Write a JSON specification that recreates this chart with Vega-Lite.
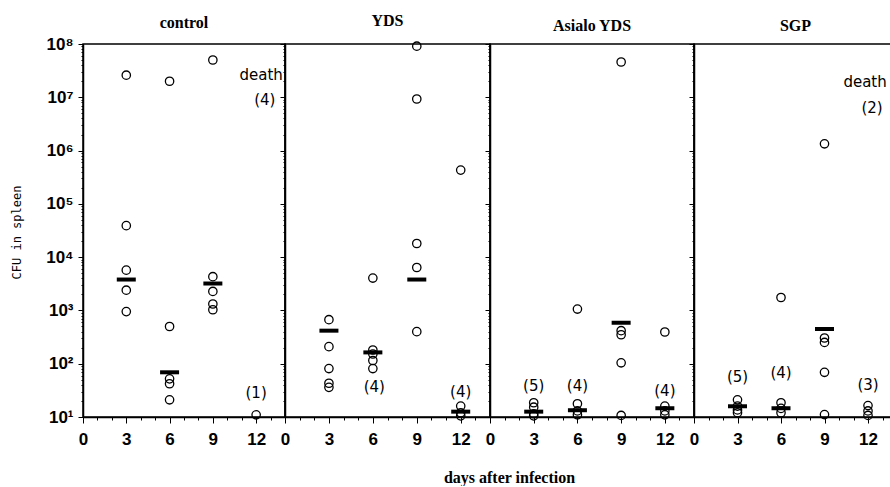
{
  "$schema": "https://vega.github.io/schema/vega-lite/v6.json",
  "padding": {"left": 9, "top": 12, "right": 0, "bottom": 0},
  "autosize": {"type": "pad"},
  "background": "white",
  "spacing": 0,
  "bounds": "flush",
  "datasets": {
    "pts": [
      {"g": "control", "day": 3, "cfu": 26000000}, {"g": "control", "day": 3, "cfu": 39000}, {"g": "control", "day": 3, "cfu": 5700}, {"g": "control", "day": 3, "cfu": 2400}, {"g": "control", "day": 3, "cfu": 950},
      {"g": "control", "day": 6, "cfu": 20000000}, {"g": "control", "day": 6, "cfu": 500}, {"g": "control", "day": 6, "cfu": 52}, {"g": "control", "day": 6, "cfu": 42}, {"g": "control", "day": 6, "cfu": 21},
      {"g": "control", "day": 9, "cfu": 50000000}, {"g": "control", "day": 9, "cfu": 4300}, {"g": "control", "day": 9, "cfu": 2270}, {"g": "control", "day": 9, "cfu": 1320}, {"g": "control", "day": 9, "cfu": 1030},
      {"g": "control", "day": 12, "cfu": 11},
      {"g": "YDS", "day": 3, "cfu": 670}, {"g": "YDS", "day": 3, "cfu": 209}, {"g": "YDS", "day": 3, "cfu": 81}, {"g": "YDS", "day": 3, "cfu": 43}, {"g": "YDS", "day": 3, "cfu": 36},
      {"g": "YDS", "day": 6, "cfu": 4050}, {"g": "YDS", "day": 6, "cfu": 181}, {"g": "YDS", "day": 6, "cfu": 152}, {"g": "YDS", "day": 6, "cfu": 115}, {"g": "YDS", "day": 6, "cfu": 81},
      {"g": "YDS", "day": 9, "cfu": 91000000}, {"g": "YDS", "day": 9, "cfu": 9300000}, {"g": "YDS", "day": 9, "cfu": 18000}, {"g": "YDS", "day": 9, "cfu": 6400}, {"g": "YDS", "day": 9, "cfu": 400},
      {"g": "YDS", "day": 12, "cfu": 430000}, {"g": "YDS", "day": 12, "cfu": 16}, {"g": "YDS", "day": 12, "cfu": 12}, {"g": "YDS", "day": 12, "cfu": 10.5},
      {"g": "Asialo YDS", "day": 3, "cfu": 18.5}, {"g": "Asialo YDS", "day": 3, "cfu": 15.3}, {"g": "Asialo YDS", "day": 3, "cfu": 11.5}, {"g": "Asialo YDS", "day": 3, "cfu": 10.5},
      {"g": "Asialo YDS", "day": 6, "cfu": 1060}, {"g": "Asialo YDS", "day": 6, "cfu": 17.7}, {"g": "Asialo YDS", "day": 6, "cfu": 13}, {"g": "Asialo YDS", "day": 6, "cfu": 11},
      {"g": "Asialo YDS", "day": 9, "cfu": 46000000}, {"g": "Asialo YDS", "day": 9, "cfu": 417}, {"g": "Asialo YDS", "day": 9, "cfu": 350}, {"g": "Asialo YDS", "day": 9, "cfu": 104}, {"g": "Asialo YDS", "day": 9, "cfu": 10.7},
      {"g": "Asialo YDS", "day": 12, "cfu": 394}, {"g": "Asialo YDS", "day": 12, "cfu": 16}, {"g": "Asialo YDS", "day": 12, "cfu": 13}, {"g": "Asialo YDS", "day": 12, "cfu": 11},
      {"g": "SGP", "day": 3, "cfu": 21}, {"g": "SGP", "day": 3, "cfu": 16}, {"g": "SGP", "day": 3, "cfu": 13.6}, {"g": "SGP", "day": 3, "cfu": 12},
      {"g": "SGP", "day": 6, "cfu": 1750}, {"g": "SGP", "day": 6, "cfu": 18.5}, {"g": "SGP", "day": 6, "cfu": 14.5}, {"g": "SGP", "day": 6, "cfu": 12},
      {"g": "SGP", "day": 9, "cfu": 1340000}, {"g": "SGP", "day": 9, "cfu": 304}, {"g": "SGP", "day": 9, "cfu": 251}, {"g": "SGP", "day": 9, "cfu": 69}, {"g": "SGP", "day": 9, "cfu": 11.1},
      {"g": "SGP", "day": 12, "cfu": 16.4}, {"g": "SGP", "day": 12, "cfu": 13}, {"g": "SGP", "day": 12, "cfu": 10.7}
    ],
    "means": [
      {"g": "control", "day": 3, "cfu": 3800}, {"g": "control", "day": 6, "cfu": 69}, {"g": "control", "day": 9, "cfu": 3200},
      {"g": "YDS", "day": 3, "cfu": 417}, {"g": "YDS", "day": 6, "cfu": 163}, {"g": "YDS", "day": 9, "cfu": 3800}, {"g": "YDS", "day": 12, "cfu": 12.6},
      {"g": "Asialo YDS", "day": 3, "cfu": 12.6}, {"g": "Asialo YDS", "day": 6, "cfu": 13.4}, {"g": "Asialo YDS", "day": 9, "cfu": 590}, {"g": "Asialo YDS", "day": 12, "cfu": 14.6},
      {"g": "SGP", "day": 3, "cfu": 15.9}, {"g": "SGP", "day": 6, "cfu": 14.6}, {"g": "SGP", "day": 9, "cfu": 448}
    ],
    "notes": [
      {"g": "control", "day": 12.35, "cfu": 26000000, "label": "death"}, {"g": "control", "day": 12.6, "cfu": 8800000, "label": "(4)"}, {"g": "control", "day": 12, "cfu": 27.7, "label": "(1)"},
      {"g": "YDS", "day": 6.1, "cfu": 36, "label": "(4)"}, {"g": "YDS", "day": 12, "cfu": 29, "label": "(4)"},
      {"g": "Asialo YDS", "day": 3, "cfu": 37.8, "label": "(5)"}, {"g": "Asialo YDS", "day": 6, "cfu": 37.8, "label": "(4)"}, {"g": "Asialo YDS", "day": 12, "cfu": 30.4, "label": "(4)"},
      {"g": "SGP", "day": 11.8, "cfu": 19400000, "label": "death"}, {"g": "SGP", "day": 12.28, "cfu": 6250000, "label": "(2)"}, {"g": "SGP", "day": 3, "cfu": 55.6, "label": "(5)"}, {"g": "SGP", "day": 6, "cfu": 66, "label": "(4)"}, {"g": "SGP", "day": 12, "cfu": 40, "label": "(3)"}
    ]
  },
  "hconcat": [
    {
      "width": 202, "height": 373,
      "title": {"text": "control", "dy": 6},
      "encoding": {
        "x": {"field": "day", "type": "quantitative", "scale": {"domain": [0, 14], "nice": false, "zero": false},
          "axis": {"title": null, "values": [0,1,2,3,4,5,6,7,8,9,10,11,12,13], "labelExpr": "datum.value % 3 === 0 ? datum.label : ''", "tickSize": {"condition": {"test": "datum.value % 3 === 0", "value": 6}, "value": 3}, "labelPadding": 8}},
        "y": {"field": "cfu", "type": "quantitative", "scale": {"type": "log", "domain": [10, 100000000], "nice": false},
          "axis": {"title": "CFU in spleen", "values": [10,20,30,40,50,60,70,80,90,100,200,300,400,500,600,700,800,900,1000,2000,3000,4000,5000,6000,7000,8000,9000,10000,20000,30000,40000,50000,60000,70000,80000,90000,100000,200000,300000,400000,500000,600000,700000,800000,900000,1000000,2000000,3000000,4000000,5000000,6000000,7000000,8000000,9000000,10000000,20000000,30000000,40000000,50000000,60000000,70000000,80000000,90000000,100000000],
            "labelExpr": "datum.value == 10 ? '10¹' : datum.value == 100 ? '10²' : datum.value == 1000 ? '10³' : datum.value == 10000 ? '10⁴' : datum.value == 100000 ? '10⁵' : datum.value == 1000000 ? '10⁶' : datum.value == 10000000 ? '10⁷' : datum.value == 100000000 ? '10⁸' : ''",
            "tickSize": {"condition": {"test": "indexof([10,100,1000,10000,100000,1000000,10000000,100000000], datum.value) >= 0", "value": 5}, "value": 2},
            "labelPadding": 5, "labelBaseline": "middle",
            "titleFont": "DejaVu Sans Mono", "titleFontSize": 12, "titleFontWeight": "normal", "titleX": -67, "titleY": 188, "titleAngle": -90, "titleAlign": "center", "titleBaseline": "middle"}}
      },
      "layer": [
        {"data": {"name": "pts"}, "transform": [{"filter": "datum.g === 'control'"}], "mark": {"type": "point", "filled": false, "stroke": "black", "strokeWidth": 1.3, "size": 70, "opacity": 1}},
        {"data": {"name": "means"}, "transform": [{"filter": "datum.g === 'control'"}], "mark": {"type": "tick", "orient": "horizontal", "size": 19, "thickness": 4, "color": "black", "opacity": 1}},
        {"data": {"name": "notes"}, "transform": [{"filter": "datum.g === 'control'"}], "mark": {"type": "text", "font": "DejaVu Sans", "fontSize": 15, "color": "black", "align": "center", "baseline": "middle"}, "encoding": {"text": {"field": "label"}}}
      ]
    },
    {
      "width": 205, "height": 373,
      "title": {"text": "YDS"},
      "encoding": {
        "x": {"field": "day", "type": "quantitative", "scale": {"domain": [0, 14], "nice": false, "zero": false},
          "axis": {"title": "days after infection", "values": [0,1,2,3,4,5,6,7,8,9,10,11,12,13], "labelExpr": "datum.value % 3 === 0 ? datum.label : ''", "tickSize": {"condition": {"test": "datum.value % 3 === 0", "value": 6}, "value": 3}, "labelPadding": 8,
            "titleFont": "Liberation Serif", "titleFontSize": 16, "titleFontWeight": "bold", "titleX": 224, "titleY": 60, "titleAlign": "center", "titleBaseline": "middle"}},
        "y": {"field": "cfu", "type": "quantitative", "scale": {"type": "log", "domain": [10, 100000000], "nice": false},
          "axis": {"title": null, "labels": false, "values": [10,20,30,40,50,60,70,80,90,100,200,300,400,500,600,700,800,900,1000,2000,3000,4000,5000,6000,7000,8000,9000,10000,20000,30000,40000,50000,60000,70000,80000,90000,100000,200000,300000,400000,500000,600000,700000,800000,900000,1000000,2000000,3000000,4000000,5000000,6000000,7000000,8000000,9000000,10000000,20000000,30000000,40000000,50000000,60000000,70000000,80000000,90000000,100000000],
            "tickSize": {"condition": {"test": "indexof([10,100,1000,10000,100000,1000000,10000000,100000000], datum.value) >= 0", "value": 5}, "value": 2}}}
      },
      "layer": [
        {"data": {"name": "pts"}, "transform": [{"filter": "datum.g === 'YDS'"}], "mark": {"type": "point", "filled": false, "stroke": "black", "strokeWidth": 1.3, "size": 70, "opacity": 1}},
        {"data": {"name": "means"}, "transform": [{"filter": "datum.g === 'YDS'"}], "mark": {"type": "tick", "orient": "horizontal", "size": 19, "thickness": 4, "color": "black", "opacity": 1}},
        {"data": {"name": "notes"}, "transform": [{"filter": "datum.g === 'YDS'"}], "mark": {"type": "text", "font": "DejaVu Sans", "fontSize": 15, "color": "black", "align": "center", "baseline": "middle"}, "encoding": {"text": {"field": "label"}}}
      ]
    },
    {
      "width": 204, "height": 373,
      "title": {"text": "Asialo YDS"},
      "encoding": {
        "x": {"field": "day", "type": "quantitative", "scale": {"domain": [0, 14], "nice": false, "zero": false},
          "axis": {"title": null, "values": [0,1,2,3,4,5,6,7,8,9,10,11,12,13], "labelExpr": "datum.value % 3 === 0 ? datum.label : ''", "tickSize": {"condition": {"test": "datum.value % 3 === 0", "value": 6}, "value": 3}, "labelPadding": 8}},
        "y": {"field": "cfu", "type": "quantitative", "scale": {"type": "log", "domain": [10, 100000000], "nice": false},
          "axis": {"title": null, "labels": false, "values": [10,20,30,40,50,60,70,80,90,100,200,300,400,500,600,700,800,900,1000,2000,3000,4000,5000,6000,7000,8000,9000,10000,20000,30000,40000,50000,60000,70000,80000,90000,100000,200000,300000,400000,500000,600000,700000,800000,900000,1000000,2000000,3000000,4000000,5000000,6000000,7000000,8000000,9000000,10000000,20000000,30000000,40000000,50000000,60000000,70000000,80000000,90000000,100000000],
            "tickSize": {"condition": {"test": "indexof([10,100,1000,10000,100000,1000000,10000000,100000000], datum.value) >= 0", "value": 5}, "value": 2}}}
      },
      "layer": [
        {"data": {"name": "pts"}, "transform": [{"filter": "datum.g === 'Asialo YDS'"}], "mark": {"type": "point", "filled": false, "stroke": "black", "strokeWidth": 1.3, "size": 70, "opacity": 1}},
        {"data": {"name": "means"}, "transform": [{"filter": "datum.g === 'Asialo YDS'"}], "mark": {"type": "tick", "orient": "horizontal", "size": 19, "thickness": 4, "color": "black", "opacity": 1}},
        {"data": {"name": "notes"}, "transform": [{"filter": "datum.g === 'Asialo YDS'"}], "mark": {"type": "text", "font": "DejaVu Sans", "fontSize": 15, "color": "black", "align": "center", "baseline": "middle"}, "encoding": {"text": {"field": "label"}}}
      ]
    },
    {
      "width": 203, "height": 373,
      "title": {"text": "SGP"},
      "encoding": {
        "x": {"field": "day", "type": "quantitative", "scale": {"domain": [0, 14], "nice": false, "zero": false},
          "axis": {"title": null, "values": [0,1,2,3,4,5,6,7,8,9,10,11,12,13], "labelExpr": "datum.value % 3 === 0 ? datum.label : ''", "tickSize": {"condition": {"test": "datum.value % 3 === 0", "value": 6}, "value": 3}, "labelPadding": 8}},
        "y": {"field": "cfu", "type": "quantitative", "scale": {"type": "log", "domain": [10, 100000000], "nice": false},
          "axis": {"title": null, "labels": false, "values": [10,20,30,40,50,60,70,80,90,100,200,300,400,500,600,700,800,900,1000,2000,3000,4000,5000,6000,7000,8000,9000,10000,20000,30000,40000,50000,60000,70000,80000,90000,100000,200000,300000,400000,500000,600000,700000,800000,900000,1000000,2000000,3000000,4000000,5000000,6000000,7000000,8000000,9000000,10000000,20000000,30000000,40000000,50000000,60000000,70000000,80000000,90000000,100000000],
            "tickSize": {"condition": {"test": "indexof([10,100,1000,10000,100000,1000000,10000000,100000000], datum.value) >= 0", "value": 5}, "value": 2}}}
      },
      "layer": [
        {"data": {"name": "pts"}, "transform": [{"filter": "datum.g === 'SGP'"}], "mark": {"type": "point", "filled": false, "stroke": "black", "strokeWidth": 1.3, "size": 70, "opacity": 1}},
        {"data": {"name": "means"}, "transform": [{"filter": "datum.g === 'SGP'"}], "mark": {"type": "tick", "orient": "horizontal", "size": 19, "thickness": 4, "color": "black", "opacity": 1}},
        {"data": {"name": "notes"}, "transform": [{"filter": "datum.g === 'SGP'"}], "mark": {"type": "text", "font": "DejaVu Sans", "fontSize": 15, "color": "black", "align": "center", "baseline": "middle"}, "encoding": {"text": {"field": "label"}}}
      ]
    }
  ],
  "config": {
    "view": {"stroke": "black", "strokeWidth": 1.5},
    "axis": {"domainColor": "black", "domainWidth": 1.5, "tickColor": "black", "tickWidth": 1, "labelColor": "black", "labelFont": "Liberation Sans", "labelFontSize": 17, "labelFontWeight": "bold", "grid": false, "labelOverlap": false, "labelFlush": false, "titleColor": "black"},
    "title": {"font": "Liberation Serif", "fontSize": 16, "fontWeight": "bold", "color": "black", "offset": 10, "frame": "group", "anchor": "middle"}
  }
}
